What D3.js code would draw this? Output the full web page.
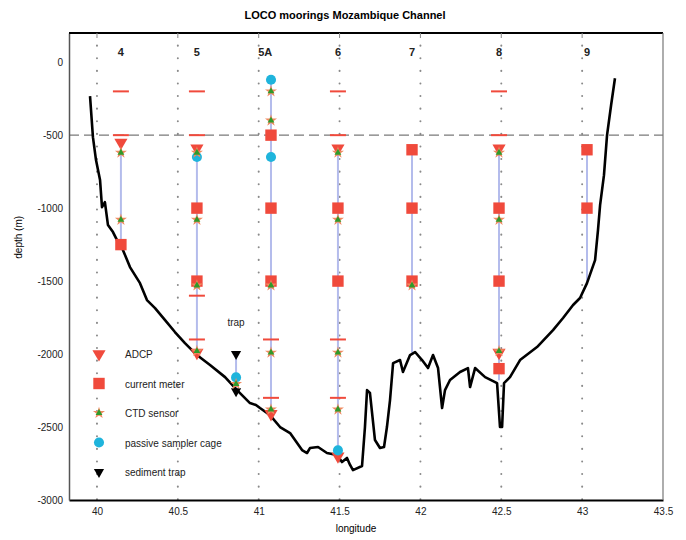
<!DOCTYPE html>
<html>
<head>
<meta charset="utf-8">
<script src="https://cdn.jsdelivr.net/npm/d3@7"></script>
<style>
  body { margin: 0; background: #fff; }
  text { font-family: "Liberation Sans", Arial, sans-serif; }
</style>
</head>
<body>
<section></section>
<script>
// bathymetry section (longitude, depth in m)
var bathLon = [39.957, 39.975, 39.994, 40.019, 40.031, 40.049, 40.068, 40.099, 40.124, 40.161,
  40.204, 40.266, 40.309, 40.359, 40.421, 40.482, 40.544, 40.618, 40.699, 40.792,
  40.866, 40.946, 40.983, 41.008, 41.070, 41.132, 41.194, 41.268, 41.299, 41.317,
  41.367, 41.422, 41.484, 41.515, 41.546, 41.565, 41.583, 41.639, 41.657, 41.670,
  41.688, 41.719, 41.750, 41.775, 41.793, 41.812, 41.831, 41.874, 41.892, 41.936,
  41.967, 42.010, 42.047, 42.078, 42.109, 42.134, 42.152, 42.183, 42.245, 42.294,
  42.307, 42.338, 42.400, 42.474, 42.492, 42.505, 42.517, 42.554, 42.616, 42.721,
  42.820, 42.882, 42.944, 42.987, 43.030, 43.080, 43.098, 43.111, 43.135, 43.154,
  43.179, 43.203];
var bathDepth = [-233, -514, -671, -808, -993, -959, -1116, -1164, -1219, -1288,
  -1404, -1514, -1630, -1685, -1767, -1849, -1925, -2007, -2075, -2158,
  -2247, -2336, -2349, -2370, -2418, -2500, -2541, -2658, -2678, -2644,
  -2637, -2678, -2692, -2740, -2712, -2760, -2795, -2767, -2500, -2247,
  -2267, -2589, -2644, -2637, -2500, -2315, -2062, -2041, -2123, -2007,
  -1986, -2041, -2096, -2007, -2096, -2370, -2247, -2178, -2123, -2096,
  -2226, -2096, -2158, -2199, -2500, -2500, -2199, -2158, -2041, -1952,
  -1836, -1753, -1664, -1616, -1514, -1356, -1151, -979, -774, -500,
  -295, -110];

// moorings
var moorNames = ["4", "5", "5A", "6", "7", "8", "9"];
var moorLon = [40.148, 40.618, 41.076, 41.49, 41.948, 42.486, 43.03];
var labelLon = [40.148, 40.618, 41.04, 41.49, 41.948, 42.486, 43.03];
var lineTop = [-550, -590, -100, -590, -600, -590, -600];
var lineBottom = [-1250, -1990, -2400, -2700, -1990, -2180, -1510];

// instruments per mooring (depths in m)
var floats = [[-200, -500], [-200, -500, -1600, -1900], [-1900, -2300], [-200, -500, -1900, -2300], [], [-200, -500], []];
var adcp = [[-550], [-590, -1990], [-2410], [-590, -2700], [], [-590, -1990], []];
var currentMeter = [[-1250], [-1000, -1500], [-500, -1000, -1500], [-1000, -1500], [-600, -1000, -1500], [-1000, -1500, -2100], [-600, -1000]];
var ctd = [[-620, -1080], [-620, -1080, -1530, -1980], [-200, -400, -1530, -1990, -2380], [-620, -1080, -1990, -2380], [-1530], [-620, -1080, -1980], []];
var sampler = [[], [-650], [-120, -650], [-2660], [], [], []];

// sediment trap
var trapLon = 40.86;
var trapLine = [-2000, -2250];
var trapDepths = [-2000, -2255];
var trapSampler = [-2160];
var trapCtd = [-2205];

var xTicks = [40, 40.5, 41, 41.5, 42, 42.5, 43, 43.5];
var yTicks = [0, -500, -1000, -1500, -2000, -2500, -3000];
var legendNames = ["ADCP", "current meter", "CTD sensor", "passive sampler cage", "sediment trap"];

var red = "#f04a3c", green = "#2f9a2a", cyan = "#1fb4dc", mooringBlue = "#b4bcec";

var margin = {top: 33, right: 23, bottom: 40, left: 69},
  width = 686 - margin.left - margin.right,
  height = 540 - margin.top - margin.bottom;

var svg = d3.select("section").append("svg")
    .attr("width", 686)
    .attr("height", 540),
  g = svg.append("g")
    .attr("transform", "translate(" + margin.left + "," + margin.top + ")");

var x = d3.scaleLinear().domain([39.827, 43.5]).range([0, width]);
var y = d3.scaleLinear().domain([-3000, 200]).range([height, 0]);

// dotted grid at x ticks
g.selectAll(".grid")
  .data(xTicks.slice(0, -1))
  .enter().append("line")
  .attr("x1", function(d) { return x(d); })
  .attr("x2", function(d) { return x(d); })
  .attr("y1", 0).attr("y2", height)
  .attr("stroke", "#8a8a8a")
  .attr("stroke-width", 2)
  .attr("stroke-linecap", "round")
  .attr("stroke-dasharray", "0.1,12.5");

// dashed line at -500
g.append("line")
  .attr("x1", 0).attr("x2", width)
  .attr("y1", y(-500)).attr("y2", y(-500))
  .attr("stroke", "#7a7a7a")
  .attr("stroke-width", 1.4)
  .attr("stroke-dasharray", "10,5");

// axes
var xAxis = g.append("g")
  .attr("transform", "translate(0," + height + ")")
  .call(d3.axisBottom(x).tickValues(xTicks).tickSize(0).tickPadding(8)
    .tickFormat(function(d) { return String(d); }));
var yAxis = g.append("g")
  .call(d3.axisLeft(y).tickValues(yTicks).tickSize(0).tickPadding(6)
    .tickFormat(function(d) { return String(d); }));
xAxis.select(".domain").attr("stroke", "#000").attr("stroke-width", 2);
yAxis.select(".domain").attr("stroke", "#555").attr("stroke-width", 1.5);
svg.selectAll(".tick text").attr("font-size", 10).attr("fill", "#222");

// frame top and right
g.append("line").attr("x1", 0).attr("x2", width).attr("y1", 0).attr("y2", 0)
  .attr("stroke", "#000").attr("stroke-width", 2);
g.append("line").attr("x1", width).attr("x2", width).attr("y1", 0).attr("y2", height)
  .attr("stroke", "#777").attr("stroke-width", 1.2);
g.selectAll(".toptick")
  .data(xTicks.slice(0, -1))
  .enter().append("line")
  .attr("x1", function(d) { return x(d); })
  .attr("x2", function(d) { return x(d); })
  .attr("y1", 0).attr("y2", 5)
  .attr("stroke", "#888");

// mooring lines
g.selectAll(".mline")
  .data(moorLon)
  .enter().append("line")
  .attr("x1", function(d) { return x(d); })
  .attr("x2", function(d) { return x(d); })
  .attr("y1", function(d, i) { return y(lineTop[i]); })
  .attr("y2", function(d, i) { return y(lineBottom[i]); })
  .attr("stroke", mooringBlue)
  .attr("stroke-width", 2);
g.append("line")
  .attr("x1", x(trapLon)).attr("x2", x(trapLon))
  .attr("y1", y(trapLine[0])).attr("y2", y(trapLine[1]))
  .attr("stroke", mooringBlue).attr("stroke-width", 2);

// bathymetry
var line = d3.line()
  .x(function(d) { return x(d[0]); })
  .y(function(d) { return y(d[1]); });
g.append("path")
  .datum(d3.zip(bathLon, bathDepth))
  .attr("d", line)
  .attr("fill", "none")
  .attr("stroke", "#000")
  .attr("stroke-width", 2.6)
  .attr("stroke-linejoin", "round");

// mooring labels
g.selectAll(".mlabel")
  .data(moorNames)
  .enter().append("text")
  .attr("x", function(d, i) { return x(labelLon[i]); })
  .attr("y", y(70) + 4)
  .attr("text-anchor", "middle")
  .attr("font-size", 11)
  .attr("font-weight", "bold")
  .attr("fill", "#222")
  .text(function(d) { return d; });

// marker helpers
var triDown = d3.symbol().type(d3.symbolTriangle).size(75);
var triSmall = d3.symbol().type(d3.symbolTriangle).size(20);
var square = d3.symbol().type(d3.symbolSquare).size(130);
var star = d3.symbol().type(d3.symbolStar).size(45);
var circ = d3.symbol().type(d3.symbolCircle).size(80);

function flatten(lists, lons) {
  var out = [];
  lists.forEach(function(l, i) { l.forEach(function(v) { out.push([lons[i], v]); }); });
  return out;
}
function drawADCP(sel, px, py) {
  sel.append("path").attr("d", triDown)
    .attr("transform", "translate(" + px + "," + py + ") rotate(180)").attr("fill", red);
}
function drawSquare(sel, px, py) {
  sel.append("path").attr("d", square)
    .attr("transform", "translate(" + px + "," + py + ")").attr("fill", red);
}
function drawCTD(sel, px, py) {
  sel.append("path").attr("d", star)
    .attr("transform", "translate(" + px + "," + py + ")").attr("fill", "#f08a60");
  sel.append("path").attr("d", triSmall)
    .attr("transform", "translate(" + px + "," + py + ")").attr("fill", green);
}
function drawSampler(sel, px, py) {
  sel.append("path").attr("d", circ)
    .attr("transform", "translate(" + px + "," + py + ")").attr("fill", cyan);
}
function drawTrap(sel, px, py) {
  sel.append("path").attr("d", d3.symbol().type(d3.symbolTriangle).size(45))
    .attr("transform", "translate(" + px + "," + py + ") rotate(180)").attr("fill", "#000");
}

// floats (red dashes)
g.selectAll(".float")
  .data(flatten(floats, moorLon))
  .enter().append("line")
  .attr("x1", function(d) { return x(d[0]) - 8; })
  .attr("x2", function(d) { return x(d[0]) + 8; })
  .attr("y1", function(d) { return y(d[1]); })
  .attr("y2", function(d) { return y(d[1]); })
  .attr("stroke", red).attr("stroke-width", 2);

var marks = g.append("g");
flatten(currentMeter, moorLon).forEach(function(d) { drawSquare(marks, x(d[0]), y(d[1])); });
flatten(adcp, moorLon).forEach(function(d) { drawADCP(marks, x(d[0]), y(d[1])); });
flatten(sampler, moorLon).forEach(function(d) { drawSampler(marks, x(d[0]), y(d[1])); });
flatten(ctd, moorLon).forEach(function(d) { drawCTD(marks, x(d[0]), y(d[1])); });

trapDepths.forEach(function(v) { drawTrap(marks, x(trapLon), y(v)); });
trapSampler.forEach(function(v) { drawSampler(marks, x(trapLon), y(v)); });
trapCtd.forEach(function(v) { drawCTD(marks, x(trapLon), y(v)); });
g.append("text")
  .attr("x", x(trapLon)).attr("y", y(-1810))
  .attr("text-anchor", "middle")
  .attr("font-size", 10).attr("fill", "#222")
  .text("trap");

// legend
var legend = g.append("g").attr("transform", "translate(30,321)");
var drawers = [drawADCP, drawSquare, drawCTD, drawSampler, drawTrap];
legendNames.forEach(function(name, i) {
  var row = legend.append("g").attr("transform", "translate(0," + (i * 29.5) + ")");
  drawers[i](row, 0, 0);
  row.append("text").attr("x", 26).attr("y", 4)
    .attr("font-size", 10).attr("fill", "#222").text(name);
});

// titles
svg.append("text")
  .attr("x", 345).attr("y", 19)
  .attr("text-anchor", "middle")
  .attr("font-size", 11).attr("font-weight", "bold")
  .text("LOCO moorings Mozambique Channel");
svg.append("text")
  .attr("x", 356).attr("y", 532)
  .attr("text-anchor", "middle")
  .attr("font-size", 10)
  .text("longitude");
svg.append("text")
  .attr("transform", "translate(22," + (margin.top + y(-1200)) + ") rotate(-90)")
  .attr("text-anchor", "middle")
  .attr("font-size", 10)
  .text("depth (m)");
</script>
</body>
</html>
